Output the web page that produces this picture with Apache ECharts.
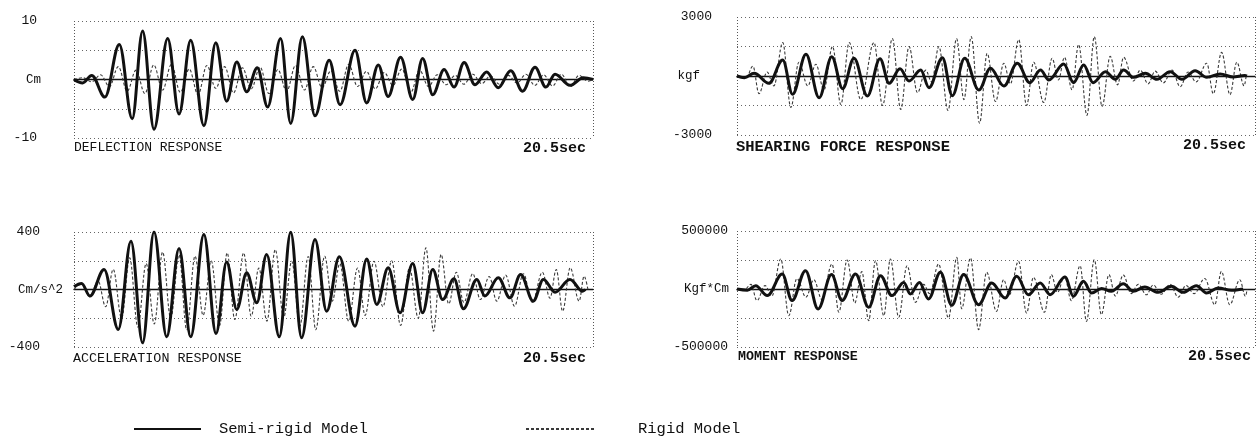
<!DOCTYPE html>
<html><head><meta charset="utf-8">
<script src="https://cdn.jsdelivr.net/npm/echarts@6/dist/echarts.min.js"></script>
<style>html,body{margin:0;padding:0;background:#fff}#c{width:1257px;height:446px}</style>
</head><body><div id="c"></div>
<script>
// ---------- data ----------
const timeRange = [0, 20.5];
const panelTitles = ['DEFLECTION RESPONSE', 'ACCELERATION RESPONSE', 'SHEARING FORCE RESPONSE', 'MOMENT RESPONSE'];
const unitLabels = ['Cm', 'Cm/s^2', 'kgf', 'Kgf*Cm'];
const axisMax = [10, 400, 3000, 500000];
const endLabel = '20.5sec';
const seriesNames = ['Semi-rigid Model', 'Rigid Model'];

const deflSemi = [[0,0],[0.34,-0.6],[0.70,0.7],[1.22,-3.0],[1.79,6.0],[2.30,-6.7],[2.71,8.3],[3.16,-8.5],[3.70,7.0],[4.15,-5.9],[4.61,6.7],[5.13,-7.9],[5.60,6.3],[6.03,-3.7],[6.43,3.0],[6.82,-2.1],[7.24,2.0],[7.65,-4.7],[8.16,7.0],[8.56,-7.5],[9.02,7.3],[9.52,-6.2],[10.08,3.3],[10.51,-4.3],[11.10,5.0],[11.56,-4.0],[12.02,2.5],[12.41,-2.9],[12.90,3.8],[13.38,-3.4],[13.77,3.6],[14.17,-2.6],[14.62,1.7],[15.01,-1.3],[15.41,2.9],[15.84,-0.9],[16.30,1.3],[16.76,-1.4],[17.25,1.5],[17.72,-2.0],[18.21,2.1],[18.64,-1.3],[19.00,0.9],[19.59,-1.0],[20.12,0.3],[20.5,0]];
const deflRigid = [[0,0],[0.35,0.3],[0.7,-0.4],[1.05,0.8],[1.4,-1.2],[1.75,2.2],[2.1,-2.0],[2.45,1.6],[2.8,-2.4],[3.15,2.5],[3.5,-1.8],[3.85,2.6],[4.2,-2.2],[4.55,1.8],[4.9,-2.6],[5.25,2.4],[5.6,-1.5],[5.95,2.2],[6.3,-2.3],[6.65,2.0],[7.0,-1.6],[7.35,2.1],[7.7,-2.4],[8.05,1.7],[8.4,-2.0],[8.75,2.4],[9.1,-1.8],[9.45,2.2],[9.8,-1.4],[10.15,1.5],[10.5,-2.0],[10.85,2.6],[11.2,-1.2],[11.55,1.4],[11.9,-1.6],[12.25,1.2],[12.6,-1.0],[12.95,1.8],[13.3,-2.2],[13.65,1.6],[14.0,-1.2],[14.35,0.8],[14.7,-0.9],[15.05,0.7],[15.4,-0.8],[15.75,0.9],[16.1,-0.7],[16.45,0.6],[16.8,-0.8],[17.15,0.7],[17.5,-0.6],[17.85,0.9],[18.2,-1.0],[18.55,0.8],[18.9,-1.1],[19.25,0.9],[19.6,-1.2],[19.95,0.7],[20.3,-0.3],[20.5,0]];

const accSemi = [[0,20],[0.30,42],[0.63,-46],[1.19,139],[1.75,-278],[2.25,336],[2.71,-371],[3.16,400],[3.66,-329],[4.15,285],[4.61,-329],[5.13,383],[5.61,-306],[6.03,192],[6.43,-139],[6.82,116],[7.22,-93],[7.61,243],[8.11,-329],[8.56,399],[8.99,-336],[9.52,348],[9.98,-151],[10.48,227],[11.10,-255],[11.56,213],[11.96,-104],[12.41,151],[12.88,-162],[13.38,181],[13.77,-162],[14.17,139],[14.56,-70],[15.01,74],[15.38,-134],[15.91,70],[16.23,-46],[16.76,81],[17.22,-58],[17.64,104],[18.14,-81],[18.54,70],[19.00,-19],[19.59,70],[20.09,-12],[20.2,0]];
const accRigid = [[0,0],[0.3,40],[0.62,-50],[0.95,60],[1.25,-120],[1.55,140],[1.88,-200],[2.2,220],[2.52,-260],[2.85,180],[3.17,-240],[3.5,260],[3.82,-200],[4.15,240],[4.45,-280],[4.78,232],[5.1,-180],[5.42,200],[5.75,-250],[6.05,255],[6.35,-209],[6.7,255],[7.0,-186],[7.3,150],[7.62,-220],[7.95,278],[8.28,-197],[8.6,197],[8.92,-255],[9.25,230],[9.55,-280],[9.9,232],[10.2,-81],[10.5,180],[10.85,-220],[11.2,150],[11.5,-180],[11.85,197],[12.2,-120],[12.55,200],[12.9,-250],[13.25,150],[13.6,-200],[13.9,290],[14.2,-290],[14.5,244],[14.8,-100],[15.1,120],[15.4,-90],[15.75,110],[16.05,-70],[16.4,90],[16.7,-81],[17.05,100],[17.4,-116],[17.75,110],[18.1,-90],[18.5,120],[18.8,-60],[19.05,139],[19.3,-151],[19.6,151],[19.95,-81],[20.15,93],[20.3,0]];

const shearSemi = [[0,0],[0.29,-85],[0.68,136],[1.26,-373],[1.81,814],[2.20,-932],[2.73,1102],[3.25,-1102],[3.75,983],[4.18,-644],[4.63,898],[5.16,-1017],[5.66,881],[6.02,-373],[6.45,373],[6.81,-254],[7.27,305],[7.60,-593],[8.13,932],[8.52,-1000],[9.01,898],[9.57,-712],[10.03,390],[10.56,-508],[11.09,644],[11.59,-339],[12.01,305],[12.34,-203],[12.93,610],[13.32,-339],[13.72,559],[14.09,-339],[14.58,220],[14.97,-170],[15.30,305],[15.69,-68],[16.16,136],[16.62,-170],[17.14,220],[17.61,-170],[18.13,272],[18.59,-68],[19.12,100],[19.63,-50],[20.10,30],[20.18,0]];
const shearRigid = [[0,0],[0.36,-100],[0.63,500],[0.87,-900],[1.19,200],[1.46,-500],[1.81,1700],[2.13,-1600],[2.45,700],[2.80,-500],[3.12,600],[3.44,-700],[3.78,1500],[4.11,-1450],[4.44,1700],[4.90,-1200],[5.42,1700],[5.76,-1500],[6.15,1900],[6.48,-1700],[6.81,1500],[7.14,-850],[7.47,300],[7.70,-300],[7.99,1500],[8.35,-1750],[8.69,1900],[8.98,-1200],[9.27,2000],[9.60,-2400],[9.90,1150],[10.23,-1300],[10.56,650],[10.82,-400],[11.15,1850],[11.46,-1500],[11.74,700],[12.14,-1350],[12.47,900],[12.72,-200],[12.96,950],[13.26,-700],[13.52,1600],[13.85,-2000],[14.14,2000],[14.45,-1550],[14.77,1000],[15.06,-450],[15.30,950],[15.69,-250],[15.96,300],[16.27,-400],[16.55,250],[16.87,-350],[17.22,300],[17.54,-550],[17.85,200],[18.17,-300],[18.59,650],[18.85,-900],[19.18,1200],[19.51,-950],[19.78,700],[20.07,-500],[20.15,0]];

const momSemi = [[0,0],[0.41,-10000],[0.74,29000],[1.20,-57000],[1.79,129000],[2.18,-100000],[2.71,158000],[3.21,-172000],[3.74,124000],[4.16,-100000],[4.69,129000],[5.21,-158000],[5.68,115000],[6.13,-57000],[6.60,57000],[6.86,-43000],[7.22,57000],[7.58,-86000],[8.05,145000],[8.50,-140000],[8.97,124000],[9.56,-135000],[10.08,52000],[10.61,-78000],[11.07,109000],[11.53,-49000],[12.00,52000],[12.39,-49000],[12.98,103000],[13.31,-63000],[13.71,66000],[14.03,-34000],[14.43,5000],[14.81,-20000],[15.29,46000],[15.68,-20000],[16.14,17000],[16.67,-29000],[17.19,23000],[17.66,-29000],[18.18,29000],[18.58,-34000],[19.04,9000],[19.57,-11000],[20.03,0]];
const momRigid = [[0,0],[0.28,-10000],[0.55,40000],[0.79,-100000],[1.11,30000],[1.38,-60000],[1.73,259000],[2.05,-230000],[2.37,90000],[2.73,-70000],[3.04,80000],[3.36,-90000],[3.76,215000],[4.03,-200000],[4.36,250000],[4.66,-120000],[4.94,150000],[5.21,-273000],[5.48,244000],[5.81,-230000],[6.07,259000],[6.40,-244000],[6.73,201000],[7.06,-115000],[7.39,40000],[7.62,-40000],[7.98,215000],[8.37,-250000],[8.70,273000],[8.89,-170000],[9.24,267000],[9.56,-350000],[9.88,144000],[10.27,-193000],[10.55,80000],[10.78,-50000],[11.14,239000],[11.46,-207000],[11.73,100000],[12.17,-200000],[12.44,124000],[12.68,-30000],[12.96,110000],[13.23,-100000],[13.58,201000],[13.83,-279000],[14.14,253000],[14.42,-221000],[14.72,124000],[14.97,-60000],[15.29,120000],[15.60,-40000],[15.88,40000],[16.20,-50000],[16.47,35000],[16.79,-45000],[17.14,40000],[17.46,-70000],[17.77,30000],[18.09,-40000],[18.51,90000],[18.91,-135000],[19.17,152000],[19.50,-135000],[19.90,80000],[20.12,-63000],[20.19,0]];

const semiData = [deflSemi, accSemi, shearSemi, momSemi];
const rigidData = [deflRigid, accRigid, shearRigid, momRigid];

// ---------- layout / style ----------
const MONO = '"Liberation Mono", "DejaVu Sans Mono", monospace';
const INK = '#111';
const NOCOLOR = 'rgba(0,0,0,0)';
const grids = [
  {left: 74, top: 21, width: 519, height: 117},
  {left: 74, top: 232, width: 519, height: 115},
  {left: 737, top: 17, width: 518, height: 118},
  {left: 737, top: 231, width: 518, height: 116}
];
const labelMargin = [37, 34, 25, 9];
const unitGap = [33, 11, 37, 8];
const titlePos = [
  {left: 74, top: 141, size: 13, weight: 'normal'},
  {left: 73, top: 352, size: 13.4, weight: 'normal'},
  {left: 736, top: 139, size: 15.5, weight: 'bold'},
  {left: 738, top: 350, size: 13.3, weight: 'bold'}
];
const endPos = [
  {right: 1257 - 586, top: 141},
  {right: 1257 - 586, top: 351},
  {right: 1257 - 1246, top: 138},
  {right: 1257 - 1251, top: 349}
];

const option = {
  animation: false,
  backgroundColor: '#fff',
  grid: grids.map(g => Object.assign({containLabel: false, outerBoundsMode: 'none', show: false}, g)),
  title: [].concat(
    panelTitles.map((t, i) => ({
      text: t, left: titlePos[i].left, top: titlePos[i].top, padding: 0,
      textStyle: {fontFamily: MONO, fontSize: titlePos[i].size, fontWeight: titlePos[i].weight, color: INK}
    })),
    endPos.map(p => ({
      text: endLabel, right: p.right, top: p.top, padding: 0,
      textStyle: {fontFamily: MONO, fontSize: 15, fontWeight: 'bold', color: INK}
    }))
  ),
  legend: [
    {data: [seriesNames[0]], left: 133, top: 421, padding: 0, itemWidth: 67, itemHeight: 14,
     itemStyle: {opacity: 0},
     textStyle: {fontFamily: MONO, fontSize: 15.5, color: INK, padding: [0, 0, 0, 13]}},
    {data: [seriesNames[1]], left: 525, top: 421, padding: 0, itemWidth: 70, itemHeight: 14,
     itemStyle: {opacity: 0},
     textStyle: {fontFamily: MONO, fontSize: 15.5, color: INK, padding: [0, 0, 0, 37]}}
  ],
  xAxis: grids.map((g, i) => ({
    type: 'value', gridIndex: i, min: timeRange[0], max: timeRange[1], interval: timeRange[1],
    axisLine: {show: true, onZero: true, lineStyle: {color: INK, width: 1.3}},
    axisTick: {show: false}, axisLabel: {show: false},
    splitLine: {show: true, lineStyle: {color: '#555', type: [1, 2], width: 1}}
  })),
  yAxis: grids.map((g, i) => ({
    type: 'value', gridIndex: i, min: -axisMax[i], max: axisMax[i], interval: axisMax[i] / 2,
    name: unitLabels[i], nameLocation: 'middle', nameRotate: 0, nameGap: unitGap[i],
    nameMoveOverlap: false,
    nameTextStyle: {fontFamily: MONO, fontSize: 12.5, color: INK, align: 'right', verticalAlign: 'middle'},
    axisLine: {show: false}, axisTick: {show: false},
    axisLabel: {
      margin: labelMargin[i], fontFamily: MONO, fontSize: 13, color: INK,
      formatter: v => (Math.abs(v) === axisMax[i] ? String(v) : '')
    },
    splitLine: {show: true, lineStyle: {color: '#666', type: [1, 3], width: 1}}
  })),
  series: [].concat(
    rigidData.map((d, i) => ({
      name: seriesNames[1], type: 'line', xAxisIndex: i, yAxisIndex: i, data: d,
      smooth: 0.36, smoothMonotone: 'x', showSymbol: false, symbol: 'none', z: 2,
      lineStyle: {color: '#3a3a3a', width: 1.1, type: [3, 2]}, itemStyle: {color: NOCOLOR}
    })),
    semiData.map((d, i) => ({
      name: seriesNames[0], type: 'line', xAxisIndex: i, yAxisIndex: i, data: d,
      smooth: 0.36, smoothMonotone: 'x', showSymbol: false, symbol: 'none', z: 3,
      lineStyle: {color: INK, width: 3}, itemStyle: {color: NOCOLOR}
    }))
  )
};
const chart = echarts.init(document.getElementById('c'), null, {renderer: 'canvas'});
chart.setOption(option);
</script></body></html>
